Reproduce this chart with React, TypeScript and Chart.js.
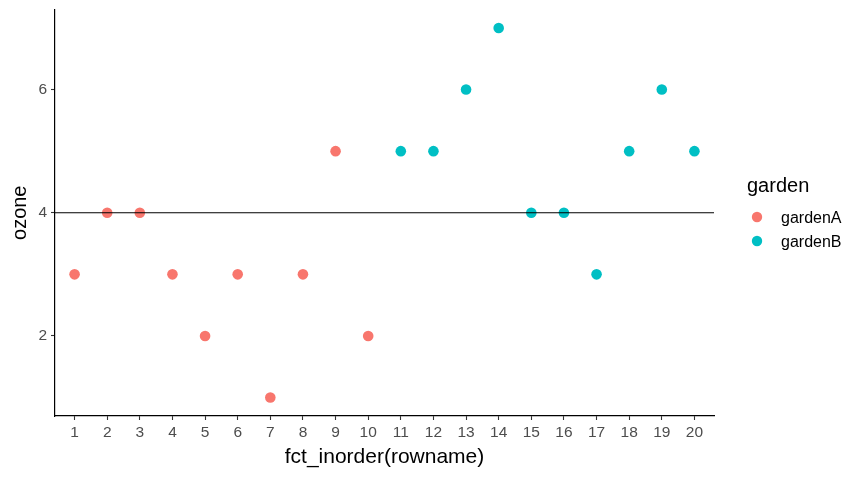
import React, { useEffect, useRef } from "react";
import { Chart, registerables } from "chart.js";

Chart.register(...registerables);

const gardenAX = [1, 2, 3, 4, 5, 6, 7, 8, 9, 10];
const gardenAOzone = [3, 4, 4, 3, 2, 3, 1, 3, 5, 2];
const gardenBX = [11, 12, 13, 14, 15, 16, 17, 18, 19, 20];
const gardenBOzone = [5, 5, 6, 7, 4, 4, 3, 5, 6, 5];
const xTicks = [1, 2, 3, 4, 5, 6, 7, 8, 9, 10, 11, 12, 13, 14, 15, 16, 17, 18, 19, 20];
const yTicks = [2, 4, 6];
const meanLine = 4;
const seriesNames = ["gardenA", "gardenB"];
const seriesColors = ["#F8766D", "#00BFC4"];
const legendTitle = "garden";

const FONT = "'Liberation Sans', Arial, sans-serif";

const hlinePlugin = {
  id: "hline",
  afterDatasetsDraw(chart: any) {
    const { ctx, chartArea, scales } = chart;
    const y = scales.y.getPixelForValue(meanLine);
    ctx.save();
    ctx.strokeStyle = "#000000";
    ctx.lineWidth = 1.1;
    ctx.beginPath();
    ctx.moveTo(chartArea.left, y);
    ctx.lineTo(chartArea.right, y);
    ctx.stroke();
    ctx.restore();
  },
};

const legendPlugin = {
  id: "ggLegend",
  afterDraw(chart: any) {
    const { ctx } = chart;
    ctx.save();
    ctx.fillStyle = "#000000";
    ctx.font = `20px ${FONT}`;
    ctx.textBaseline = "alphabetic";
    ctx.textAlign = "left";
    ctx.fillText(legendTitle, 747, 192);
    seriesNames.forEach((name, i) => {
      const cy = 217 + i * 24;
      ctx.fillStyle = seriesColors[i];
      ctx.beginPath();
      ctx.arc(757, cy, 5.2, 0, Math.PI * 2);
      ctx.fill();
      ctx.fillStyle = "#000000";
      ctx.font = `16px ${FONT}`;
      ctx.fillText(name, 781, cy + 6);
    });
    ctx.restore();
  },
};

export default function App() {
  const ref = useRef<HTMLCanvasElement>(null);
  useEffect(() => {
    document.body.style.margin = "0";
    const chart = new Chart(ref.current!, {
      type: "scatter",
      data: {
        datasets: [
          {
            label: seriesNames[0],
            data: gardenAX.map((x, i) => ({ x, y: gardenAOzone[i] })),
            backgroundColor: seriesColors[0],
            borderWidth: 0,
            pointRadius: 5.3,
          },
          {
            label: seriesNames[1],
            data: gardenBX.map((x, i) => ({ x, y: gardenBOzone[i] })),
            backgroundColor: seriesColors[1],
            borderWidth: 0,
            pointRadius: 5.3,
          },
        ],
      },
      options: {
        animation: false,
        responsive: false,
        layout: { padding: { left: 8, right: 150, top: 9.5, bottom: 6 } },
        plugins: { legend: { display: false }, tooltip: { enabled: false } },
        scales: {
          x: {
            type: "linear",
            min: 0.4,
            max: 20.6,
            afterBuildTicks: (s: any) => {
              s.ticks = xTicks.map((v) => ({ value: v }));
            },
            afterFit: (s: any) => {
              s.height = 58;
              s.paddingLeft = 0;
              s.paddingRight = 0;
            },
            grid: { display: true, drawOnChartArea: false, drawTicks: true, tickLength: 4, tickColor: "#333333", tickWidth: 1.1 },
            border: { display: true, color: "#000000", width: 1.2 },
            ticks: { color: "#4D4D4D", font: { family: FONT, size: 15.5 }, padding: 3, maxRotation: 0, autoSkip: false },
            title: { display: true, text: "fct_inorder(rowname)", color: "#000000", font: { family: FONT, size: 21 }, padding: { top: 0, bottom: 4 } },
          },
          y: {
            type: "linear",
            min: 0.7,
            max: 7.3,
            afterBuildTicks: (s: any) => {
              s.ticks = yTicks.map((v) => ({ value: v }));
            },
            afterFit: (s: any) => {
              s.width = 47;
              s.paddingTop = 0;
              s.paddingBottom = 0;
            },
            grid: { display: true, drawOnChartArea: false, drawTicks: true, tickLength: 4, tickColor: "#333333", tickWidth: 1.1 },
            border: { display: true, color: "#000000", width: 1.2 },
            ticks: { color: "#4D4D4D", font: { family: FONT, size: 15.5 }, padding: 4 },
            title: { display: true, text: "ozone", color: "#000000", font: { family: FONT, size: 20 }, padding: { top: 0, bottom: 0 } },
          },
        },
      },
      plugins: [hlinePlugin, legendPlugin],
    });
    return () => chart.destroy();
  }, []);
  return (
    <div style={{ width: 864, height: 480, background: "#ffffff" }}>
      <canvas ref={ref} width={864} height={480} style={{ width: 864, height: 480 }} />
    </div>
  );
}
